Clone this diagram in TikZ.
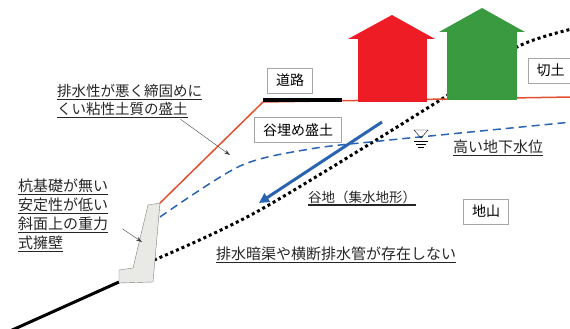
\documentclass[tikz,border=0pt]{standalone}
\usepackage{fontspec}
\setmainfont{Noto Sans CJK JP}
\usetikzlibrary{arrows.meta}

\definecolor{fillred}{HTML}{E2502F}
\definecolor{housered}{HTML}{EE1C25}
\definecolor{housegreen}{HTML}{3A9A3F}
\definecolor{waterblue}{HTML}{2A64B0}
\definecolor{wallgray}{HTML}{E9E9E5}

% underline a short text
\newcommand{\kasen}[1]{\leavevmode\setbox0=\hbox{#1}\rlap{\rule[-3.5pt]{\wd0}{1.4pt}}\box0}

\tikzset{
  labelbox/.style={draw=gray!70, fill=white, font=\fontsize{14}{17}\selectfont,
    inner xsep=8.5pt, inner ysep=4pt, minimum height=25pt},
  note/.style={font=\fontsize{15}{19}\selectfont, align=left, inner sep=0pt, text=black!85},
  pointer/.style={-{Stealth[length=6pt,width=4pt]}, thin, black!75},
}

\begin{document}
\begin{tikzpicture}[x=1pt, y=-1pt]
    \useasboundingbox (0,0) rectangle (570,329);

    % ground below the wall
    \draw[line width=3pt] (10,331) -- (119,282);

    % valley bottom (original ground)
    \draw[line width=3pt, dash pattern=on 3pt off 3pt]
        plot[smooth] coordinates {(154,260) (260,210) (445,97) (517,47) (572,29)};

    % groundwater level
    \draw[waterblue, line width=1.5pt, dash pattern=on 8pt off 5pt]
        plot[smooth] coordinates {(160,217) (240,166) (310,149) (380,141) (440,135) (572,122)};

    % gravity retaining wall
    \draw[gray, fill=wallgray] (148,205) -- (160,203) -- (153,282) -- (119,283)
        -- (119,270) -- (133,268) -- cycle;

    % fill slope and ground surface
    \draw[fillred, line width=1.5pt] (160,203) -- (263,102) -- (572,97);

    % road
    \draw[line width=4pt] (263,100) -- (342,100);

    % houses
    \fill[housered] (348,39) -- (392,15) -- (435,39) -- cycle;
    \fill[housered] (358,39) rectangle (427,102);
    \fill[housegreen] (439,32) -- (482,8) -- (525,32) -- cycle;
    \fill[housegreen] (447,32) rectangle (517,100);

    % water table mark
    \draw[thin] (414,130) -- (428,130) -- (421,138) -- cycle;
    \draw[thin] (414,141) -- (428,141) (416,144) -- (426,144) (418,147) -- (424,147);

    % seepage direction
    \draw[waterblue, line width=3pt, -{Triangle[length=10pt,width=10pt]}] (382,122) -- (259,203);

    % boxed labels
    \node[labelbox] (road) at (290,80.5) {道路};
    \node[labelbox] (valleyfill) at (298,130) {谷埋め盛土};
    \node[labelbox, anchor=west] (cut) at (528,70.5) {切土};
    \node[labelbox] (ground) at (486,211.5) {地山};

    % notes
    \node[note, font=\fontsize{14.5}{18}\selectfont, anchor=north west] (fillnote) at (57,84)
        {\kasen{排水性が悪く締固めに}\\\kasen{くい粘性土質の盛土}};
    \node[note, anchor=north west] (wallnote) at (18,179)
        {\kasen{杭基礎が無い}\\\kasen{安定性が低い}\\\kasen{斜面上の重力}\\\kasen{式擁壁}};
    \node[note] (highwater) at (498,148) {\kasen{高い地下水位}};
    \node[note, font=\fontsize{13.5}{16}\selectfont] (valley) at (362,198) {\kasen{谷地（集水地形）}};
    \node[note] (nodrain) at (336,255) {\kasen{排水暗渠や横断排水管が存在しない}};

    \coordinate (fillpt) at (230,155);
    \coordinate (wallpt) at (142,242);
    \draw[pointer] ([shift={(-22,1)}]fillnote.south east) -- (fillpt);
    \draw[pointer] ([shift={(14,13)}]wallnote.east) -- (wallpt);
\end{tikzpicture}
\end{document}
